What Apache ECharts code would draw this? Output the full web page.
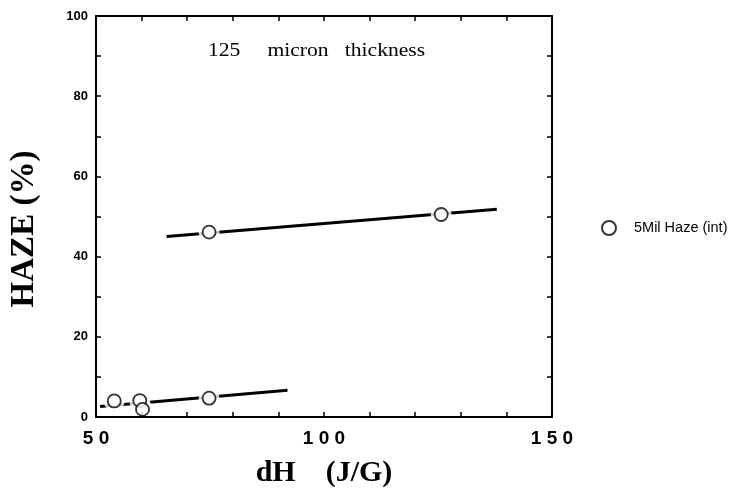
<!DOCTYPE html>
<html>
<head>
<meta charset="utf-8">
<script src="https://cdn.jsdelivr.net/npm/echarts@6/dist/echarts.min.js"></script>
<style>
  html, body { margin: 0; padding: 0; background: #fff; }
  #chart { width: 730px; height: 495px; }
</style>
</head>
<body>
<div id="chart"></div>
<script>
// Measured haze values (int) for 5 mil film vs. heat of fusion
const dH = [54.0, 59.6, 60.2, 74.8, 74.8, 125.7];
const haze = [4.0, 4.1, 1.9, 4.7, 46.1, 50.5];

// Hand-drawn trend lines (end points)
const lowFitX = [50.9, 92.0];
const lowFitY = [2.6, 6.7];
const highFitX = [65.5, 137.9];
const highFitY = [45.0, 51.8];

const xTicks = [50, 100, 150];
const yTicks = [0, 20, 40, 60, 80, 100];

const seriesName = '5Mil Haze (int)';
const note = '125     micron   thickness';

const pts = dH.map((x, i) => [x, haze[i]]);
const lowFit = lowFitX.map((x, i) => [x, lowFitY[i]]);
const highFit = highFitX.map((x, i) => [x, highFitY[i]]);

const sans = '"Liberation Sans", Arial, Helvetica, sans-serif';
const serif = '"Liberation Serif", "Times New Roman", serif';

const grid = { left: 96, top: 16, right: 178, bottom: 78 };

const tickStyle = { color: '#000', width: 1.5 };
const frameAxis = (extra) => Object.assign({
  type: 'value',
  axisLine: { show: true, onZero: false, lineStyle: { color: '#000', width: 2 } },
  axisTick: { show: true, inside: true, length: 5, lineStyle: tickStyle },
  minorTick: { show: true, length: 5, lineStyle: tickStyle },
  splitLine: { show: false },
  z: 3
}, extra);

const chart = echarts.init(document.getElementById('chart'));
chart.setOption({
  animation: false,
  backgroundColor: '#fff',
  grid: grid,
  legend: {
    data: [seriesName],
    orient: 'vertical',
    left: 596,
    top: 215,
    itemWidth: 14,
    itemHeight: 14,
    textStyle: { fontFamily: sans, fontSize: 14.5, color: '#000', padding: [0, 0, 0, 13] }
  },
  xAxis: [
    frameAxis({
      min: xTicks[0], max: xTicks[xTicks.length - 1], interval: xTicks[1] - xTicks[0],
      position: 'bottom',
      minorTick: { show: true, splitNumber: 5, length: 5, lineStyle: tickStyle },
      axisLabel: {
        margin: 12, color: '#000', fontFamily: sans, fontSize: 19, fontWeight: 'bold',
        formatter: v => String(v).split('').join(' ')
      },
      name: 'dH    (J/G)',
      nameLocation: 'middle',
      nameGap: 41,
      nameTextStyle: { fontFamily: serif, fontSize: 30, fontWeight: 'bold', color: '#000' }
    }),
    frameAxis({
      min: xTicks[0], max: xTicks[xTicks.length - 1], interval: xTicks[1] - xTicks[0],
      position: 'top',
      minorTick: { show: true, splitNumber: 5, length: 5, lineStyle: tickStyle },
      axisLabel: { show: false }
    })
  ],
  yAxis: [
    frameAxis({
      min: yTicks[0], max: yTicks[yTicks.length - 1], interval: yTicks[1] - yTicks[0],
      position: 'left',
      minorTick: { show: true, splitNumber: 2, length: 5, lineStyle: tickStyle },
      axisLabel: { margin: 8, color: '#000', fontFamily: sans, fontSize: 13, fontWeight: 'bold' }
    }),
    frameAxis({
      min: yTicks[0], max: yTicks[yTicks.length - 1], interval: yTicks[1] - yTicks[0],
      position: 'right',
      minorTick: { show: true, splitNumber: 2, length: 5, lineStyle: tickStyle },
      axisLabel: { show: false }
    })
  ],
  graphic: [
    {
      type: 'text', x: 24.5, y: 229, rotation: Math.PI / 2,
      style: {
        text: 'HAZE (%)', fill: '#000',
        font: 'bold 33px ' + serif,
        align: 'center', verticalAlign: 'middle'
      }
    },
    {
      // slightly widened serif caption
      type: 'text', x: 208, y: 51, scaleX: 1.2,
      style: {
        text: note, fill: '#000',
        font: '18px ' + serif,
        align: 'left', verticalAlign: 'middle'
      }
    }
  ],
  series: [
    {
      type: 'line', data: lowFit, symbol: 'none', silent: true, z: 1,
      lineStyle: { color: '#000', width: 3 }
    },
    {
      type: 'line', data: highFit, symbol: 'none', silent: true, z: 1,
      lineStyle: { color: '#000', width: 3 }
    },
    {
      // white ring that opens the trend line around each marker
      type: 'scatter', data: pts, symbol: 'circle', symbolSize: 21, silent: true, z: 2,
      itemStyle: { color: '#fff', borderWidth: 0 }
    },
    {
      name: seriesName,
      type: 'scatter', data: pts, symbol: 'circle', symbolSize: 13, z: 5,
      itemStyle: { color: '#fff', borderColor: '#000', borderWidth: 1.8 }
    }
  ]
});
</script>
</body>
</html>
